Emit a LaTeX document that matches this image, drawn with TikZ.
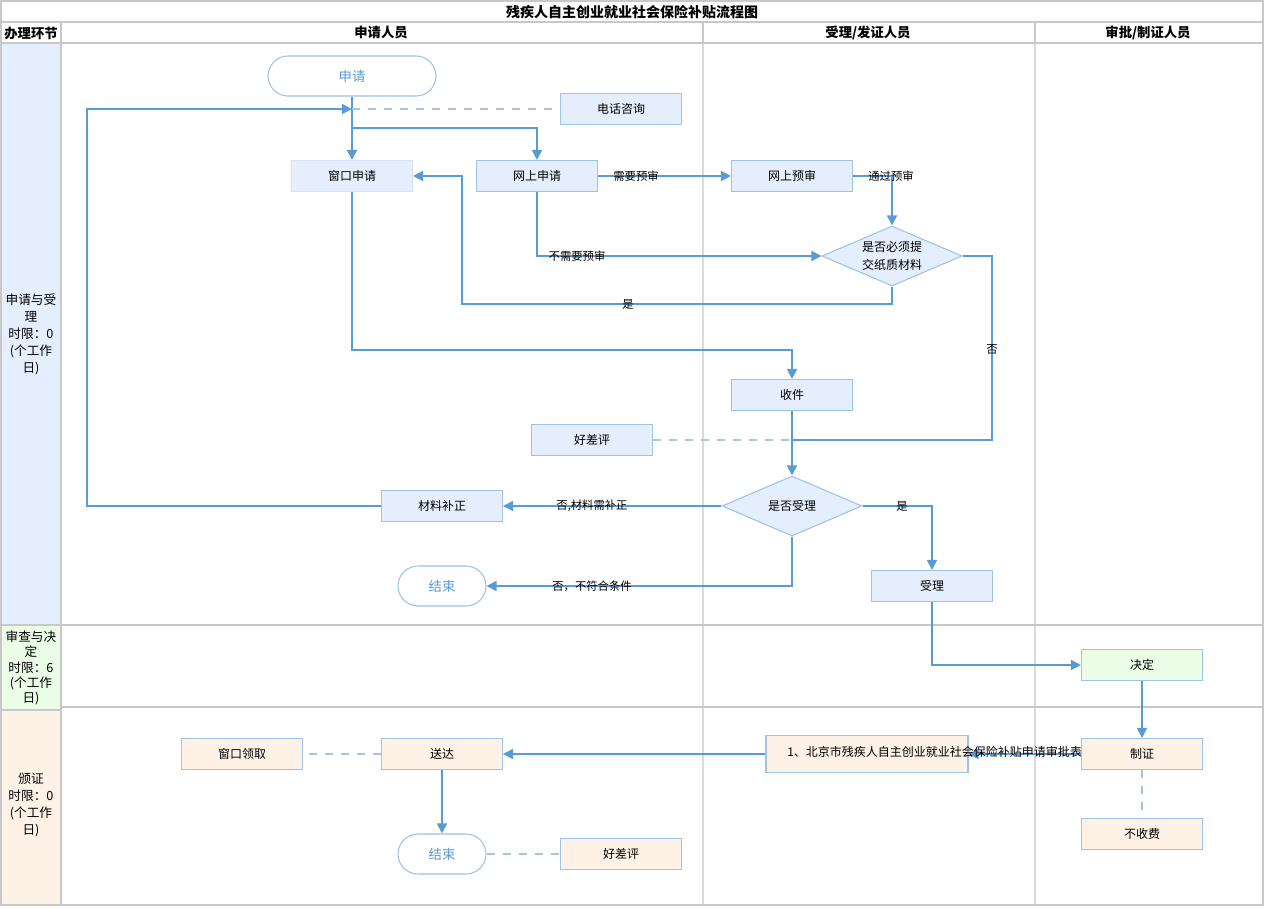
\documentclass[tikz,border=0pt]{standalone}
\usepackage{fontspec}
\setmainfont{Noto Sans CJK SC}
\usetikzlibrary{shapes.geometric,arrows.meta}
\definecolor{linec}{RGB}{91,155,213}
\definecolor{dashc}{RGB}{160,198,232}
\definecolor{bordc}{RGB}{157,195,230}
\definecolor{bfill}{RGB}{228,238,253}
\definecolor{gfill}{RGB}{235,253,230}
\definecolor{ofill}{RGB}{254,242,230}
\definecolor{gridc}{RGB}{200,200,200}
\definecolor{lanec}{RGB}{218,218,218}
\definecolor{wbord}{RGB}{218,227,243}
\tikzset{
  base/.style={font=\fontsize{9}{12}\selectfont, inner sep=0pt, align=center},
  bbox/.style={base, draw=bordc, line width=0.8pt, fill=bfill, minimum width=90.75pt, minimum height=23.25pt},
  gbox/.style={bbox, fill=gfill},
  obox/.style={bbox, fill=ofill},
  term/.style={base, font=\fontsize{10}{12}\selectfont, draw=bordc, line width=0.8pt, fill=white, rounded corners=15pt, minimum height=30pt, text=linec},
  dec/.style={base, font=\fontsize{9}{13.5}\selectfont, draw=bordc, line width=0.8pt, fill=bfill, diamond, aspect=2.33, minimum width=105pt, minimum height=45pt},
  arr/.style={draw=linec, line width=1.3pt, -{Triangle[length=7.5pt,width=7.5pt]}},
  ln/.style={draw=linec, line width=1.3pt},
  dsh/.style={draw=dashc, line width=1.3pt, dash pattern=on 6pt off 6pt},
  lbl/.style={base, font=\fontsize{8.5}{11}\selectfont},
  hdr/.style={base, font=\fontsize{10}{12}\selectfont\bfseries},
  side/.style={base, font=\fontsize{9.5}{12.75}\selectfont}
}
\begin{document}
\begin{tikzpicture}[x=0.75pt,y=-0.75pt]
\useasboundingbox (0,0) rectangle (1281,907);
% ---- swimlane frame ----
\fill[bfill] (1,43) rectangle (61,625);
\fill[gfill] (1,625) rectangle (61,710);
\fill[ofill] (1,710) rectangle (61,905);
\draw[lanec, line width=1.5pt] (703,43) -- (703,905);
\draw[lanec, line width=1.5pt] (1035,43) -- (1035,905);
\draw[gridc, line width=1.5pt] (1,22) -- (1263,22);
\draw[gridc, line width=1.5pt] (1,43) -- (1263,43);
\draw[gridc, line width=1.5pt] (61,22) -- (61,905);
\draw[gridc, line width=1.5pt] (703,22) -- (703,43);
\draw[gridc, line width=1.5pt] (1035,22) -- (1035,43);
\draw[gridc, line width=1.5pt] (1,625) -- (1263,625);
\draw[gridc, line width=1.5pt] (61,707) -- (1263,707);
\draw[gridc, line width=1.5pt] (1,710) -- (61,710);
\draw[gridc, line width=1.5pt] (1,1) rectangle (1263,905);
\node[hdr, font=\fontsize{10.5}{12}\selectfont\bfseries] (title) at (632,12) {残疾人自主创业就业社会保险补贴流程图};
\node[hdr] (h0) at (31,33) {办理环节};
\node[hdr] (h1) at (381,33) {申请人员};
\node[hdr] (h2) at (868,33) {受理/发证人员};
\node[hdr] (h3) at (1148,33) {审批/制证人员};
\node[side] (s1) at (31,334) {申请与受\\理\\时限：0\\(个工作\\日)};
\node[side, font=\fontsize{9.5}{11.5}\selectfont] (s2) at (31,668) {审查与决\\定\\时限：6\\(个工作\\日)};
\node[side] (s3) at (31,805) {颁证\\时限：0\\(个工作\\日)};
% ---- nodes ----
\node[term, minimum width=126pt] (apply) at (352,76) {申请};
\node[bbox] (phone) at (621,109) {电话咨询};
\node[bbox, draw=wbord] (window) at (352,176) {窗口申请};
\node[bbox] (online) at (537,176) {网上申请};
\node[bbox] (prerev) at (792,176) {网上预审};
\node[dec] (paper) at (892,256) {是否必须提\\交纸质材料};
\node[bbox] (recv) at (792,395) {收件};
\node[bbox] (eval1) at (592,440) {好差评};
\node[dec] (accept) at (792,506) {是否受理};
\node[bbox] (fix) at (442,506) {材料补正};
\node[term, minimum width=66pt] (end1) at (442,586) {结束};
\node[bbox] (acc) at (932,586) {受理};
\node[gbox] (decide) at (1142,665) {决定};
\node[obox] (cert) at (1142,754) {制证};
\node[obox] (nofee) at (1142,834) {不收费};
\node[obox, minimum width=151.5pt, minimum height=27.75pt] (doc) at (867,754) {};
\node[obox] (deliver) at (442,754) {送达};
\node[obox] (pickup) at (242,754) {窗口领取};
\node[term, minimum width=66pt] (end2) at (442,854) {结束};
\node[obox] (eval2) at (621,854) {好差评};
% ---- coordinates ----
\coordinate (j0) at (352,109);
\coordinate (j1) at (352,128);
\coordinate (c4a) at (87,506);
\coordinate (c4b) at (87,109);
\coordinate (c8a) at (892,304);
\coordinate (c8b) at (462,304);
\coordinate (c8c) at (462,176);
\coordinate (c9a) at (992,256);
\coordinate (c9b) at (992,440);
\coordinate (j2) at (792,440);
\coordinate (c12a) at (352,350);
\coordinate (c12b) at (792,350);
% ---- connectors ----
\draw[arr] (apply.south) -- (window.north);
\draw[arr] (j1) -| (online.north);
\draw[dsh] (j0) -- (phone.west);
\draw[arr] (fix.west) -- (c4a) -- (c4b) -- (j0);
\draw[arr] (online.east) -- (prerev.west);
\draw[arr] (prerev.east) -| (paper.north);
\draw[arr] (online.south) |- (paper.west);
\draw[arr] (paper.south) -- (c8a) -- (c8b) -- (c8c) -- (window.east);
\draw[ln] (paper.east) -- (c9a) -- (c9b) -- (j2);
\draw[dsh] (eval1.east) -- (j2);
\draw[arr] (recv.south) -- (accept.north);
\draw[arr] (window.south) -- (c12a) -- (c12b) -- (recv.north);
\draw[arr] (accept.west) -- (fix.east);
\draw[arr] (accept.south) |- (end1.east);
\draw[arr] (accept.east) -| (acc.north);
\draw[arr] (acc.south) |- (decide.west);
\draw[arr] (decide.south) -- (cert.north);
\draw[arr] (cert.west) -- (doc.east);
\draw[arr] (doc.west) -- (deliver.east);
\draw[dsh] (cert.south) -- (nofee.north);
\draw[dsh] (deliver.west) -- (pickup.east);
\draw[arr] (deliver.south) -- (end2.north);
\draw[dsh] (end2.east) -- (eval2.west);
% ---- labels ----
\node[lbl] (l1) at (636,176) {需要预审};
\node[lbl] (l2) at (891,176) {通过预审};
\node[lbl] (l3) at (577,256) {不需要预审};
\node[lbl] (l4) at (628,304) {是};
\node[lbl] (l5) at (992,350) {否};
\node[lbl] (l6) at (592,506) {否,材料需补正};
\node[lbl] (l7) at (592,586) {否，不符合条件};
\node[lbl] (l8) at (902,506) {是};
\node[base, anchor=west] (doctext) at (787,752) {1、北京市残疾人自主创业就业社会保险补贴申请审批表};
\end{tikzpicture}
\end{document}
